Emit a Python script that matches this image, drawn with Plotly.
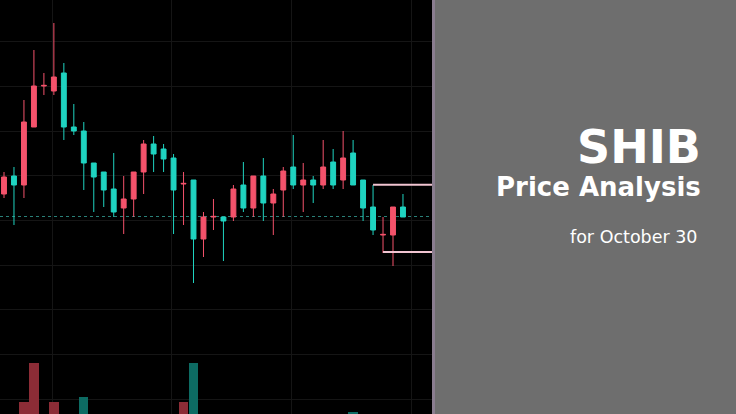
import pandas as pd
import plotly.graph_objects as go

# ---- data (price in arbitrary chart units) ----
dates = pd.date_range("2022-09-19", periods=41, freq="D")
opens = [106, 124, 115, 173, 214, 209, 227, 173, 169, 137, 128, 111, 92, 101, 128, 156, 151, 142, 116, 120,
         61, 83, 83, 83, 115, 92, 124, 97, 110, 133, 115, 120, 115, 138, 120, 147, 120, 93, 65, 65, 93]
closes = [123, 115, 178, 214, 214.6, 223, 173, 169, 137, 123, 110, 88, 101, 128, 156, 146, 141, 110, 116.6, 61,
          83, 83.6, 79, 111, 92, 124, 97, 106, 129, 115, 120, 115, 133, 115, 142, 115, 92, 70, 65.6, 93, 83]
highs = [128, 133, 200, 250, 227, 277, 237, 196, 178, 137, 128, 147, 124, 128, 160, 164, 156, 146, 128, 120,
         88, 101, 83, 115, 138, 124, 142, 111, 133, 165, 137, 124, 160, 151, 169, 160, 120, 115, 83, 93, 106]
lows = [102, 75, 102, 173, 205, 205, 160, 165, 110, 88, 93, 83, 66, 83, 106, 128, 128, 66, 75, 17,
        43, 70, 39, 79, 88, 83, 79, 65, 83, 111, 88, 97, 111, 111, 111, 115, 79, 65, 47, 34, 83]
volumes = [60, 55, 112, 151, 70, 112, 80, 62, 117, 58, 50, 66, 72, 52, 60, 48, 45, 70, 112, 151,
           85, 60, 55, 50, 62, 58, 55, 52, 60, 66, 50, 45, 58, 62, 70, 102, 64, 72, 60, 80, 52]
last_price = 83.5
box_top, box_bottom = 115.3, 48

# ---- style ----
PINK, TEAL = "#f4526b", "#1fd3c0"
PINK_V, TEAL_V = "#8c2c36", "#0d6b63"
BG = "#000000"
PANEL = "#6e6e6e"
GRID = "#151515"

DAY = pd.Timedelta(days=1)
x_start = dates[0] - 0.401 * DAY
x_end = dates[0] + 42.91 * DAY
dom_r = 432 / 736

vol_colors = [PINK_V if c >= o else TEAL_V for o, c in zip(opens, closes)]

fig = go.Figure()
fig.add_trace(go.Bar(
    x=dates, y=volumes, marker=dict(color=vol_colors, line=dict(width=0)),
    width=0.94 * 86400000, yaxis="y2", hoverinfo="skip", showlegend=False))
fig.add_trace(go.Candlestick(
    x=dates, open=opens, high=highs, low=lows, close=closes,
    increasing=dict(line=dict(color=PINK, width=1), fillcolor=PINK),
    decreasing=dict(line=dict(color=TEAL, width=1), fillcolor=TEAL),
    whiskerwidth=0, showlegend=False))

shapes = [
    # last price dotted line
    dict(type="line", xref="paper", yref="y", x0=0, x1=dom_r, y0=last_price, y1=last_price,
         line=dict(color="#2a8078", width=1, dash="dot"), layer="below"),
    # range box lines
    dict(type="line", xref="x", yref="y", x0=dates[37], x1=x_end, y0=box_top, y1=box_top,
         line=dict(color="#f1c4d1", width=2)),
    dict(type="line", xref="x", yref="y", x0=dates[38], x1=x_end, y0=box_bottom, y1=box_bottom,
         line=dict(color="#f1c4d1", width=2)),
    # right panel
    dict(type="rect", xref="paper", yref="paper", x0=dom_r, x1=1, y0=0, y1=1,
         fillcolor=PANEL, line=dict(width=0), layer="above"),
    dict(type="rect", xref="paper", yref="paper", x0=dom_r, x1=435 / 736, y0=0, y1=1,
         fillcolor="#8a7d8f", line=dict(width=0), layer="above"),
]

annotations = [
    dict(text="<b>SHIB</b>", x=703 / 736, y=1 - 147.4 / 414, xref="paper", yref="paper",
         xanchor="right", yanchor="middle", showarrow=False,
         font=dict(family="DejaVu Sans", size=46, color="#ffffff")),
    dict(text="<b>Price Analysis</b>", x=703 / 736, y=1 - 186.7 / 414, xref="paper", yref="paper",
         xanchor="right", yanchor="middle", showarrow=False,
         font=dict(family="DejaVu Sans", size=26, color="#ffffff")),
    dict(text="for October 30", x=700 / 736, y=1 - 236.6 / 414, xref="paper", yref="paper",
         xanchor="right", yanchor="middle", showarrow=False,
         font=dict(family="DejaVu Sans", size=17.5, color="#ffffff")),
]

fig.update_layout(
    width=736, height=414, margin=dict(l=0, r=0, t=0, b=0, pad=0),
    paper_bgcolor=BG, plot_bgcolor=BG, boxgap=0.3, bargap=0,
    showlegend=False, hovermode=False,
    xaxis=dict(domain=[0, dom_r], range=[x_start, x_end], type="date",
               showgrid=True, gridcolor=GRID, gridwidth=1,
               tick0=dates[0] + 4.82 * DAY, dtick=12 * 86400000,
               showticklabels=False, zeroline=False, showline=False, ticks="",
               rangeslider=dict(visible=False), fixedrange=True),
    yaxis=dict(domain=[0, 1], range=[-114, 300], showgrid=True, gridcolor=GRID, gridwidth=1,
               tick0=258.3, dtick=44.7, showticklabels=False, zeroline=False, ticks="",
               fixedrange=True),
    yaxis2=dict(domain=[0, 1], range=[100, 514], overlaying="y", visible=False, fixedrange=True),
    shapes=shapes, annotations=annotations,
)

fig.write_html("out.html", config=dict(displayModeBar=False, staticPlot=True),
               post_script="document.body.style.margin='0';document.body.style.overflow='hidden';")
